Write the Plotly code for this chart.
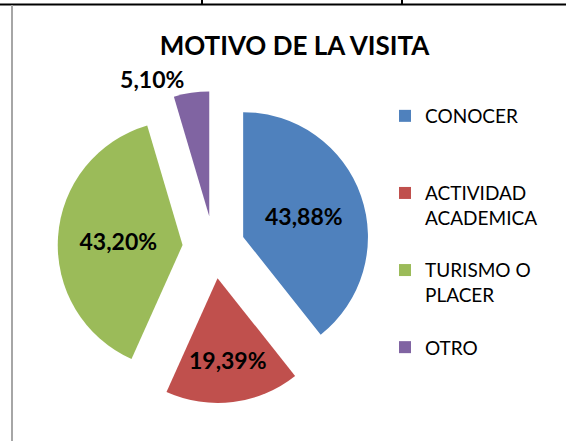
import plotly.graph_objects as go

# ---- data ----
categories = ["CONOCER", "ACTIVIDAD ACADEMICA", "TURISMO O PLACER", "OTRO"]
legend_labels = ["CONOCER", "ACTIVIDAD<br>ACADEMICA", "TURISMO O<br>PLACER", "OTRO"]
values = [43.88, 19.39, 43.20, 5.10]
value_labels = ["43,88%", "19,39%", "43,20%", "5,10%"]
colors = ["#4F81BD", "#C0504D", "#9BBB59", "#8064A2"]
title_text = "MOTIVO DE LA VISITA"

W, H = 566, 441
FONT = "Lato"

# legend entries padded so they spread over the legend column like the original
pads = ["<br>\u00a0<br>\u00a0", "<br>\u00a0", "<br>\u00a0", ""]
legend_text = [l + p for l, p in zip(legend_labels, pads)]

fig = go.Figure()
fig.add_trace(go.Pie(
    labels=legend_text,
    values=values,
    text=value_labels,
    textinfo="text",
    textposition=["inside", "inside", "inside", "outside"],
    insidetextorientation="horizontal",
    insidetextfont=dict(family=FONT, size=23, color="black", weight="bold"),
    outsidetextfont=dict(family=FONT, size=23, color="black", weight="bold"),
    marker=dict(colors=colors, line=dict(width=0)),
    pull=[0.25, 0.25, 0.25, 0.25],
    sort=False,
    direction="clockwise",
    rotation=0,
    domain=dict(x=[0.1019, 0.6532], y=[0.0857, 0.7932]),
    automargin=False,
    showlegend=True,
    hoverinfo="label+value",
))

fig.update_layout(
    width=W, height=H,
    margin=dict(l=0, r=0, t=0, b=0, autoexpand=False),
    paper_bgcolor="white",
    plot_bgcolor="white",
    font=dict(family=FONT, color="black"),
    title=dict(text="<b>" + title_text + "</b>", x=294.5 / W, xanchor="center",
               y=1 - 46 / H, yanchor="middle",
               font=dict(family=FONT, size=26, color="black")),
    legend=dict(x=385 / W, xanchor="left", y=1 - 97 / H, yanchor="top",
                font=dict(family=FONT, size=19, color="black"),
                valign="top", traceorder="normal", bgcolor="rgba(0,0,0,0)"),
    shapes=[
        dict(type="line", xref="paper", yref="paper", x0=0, x1=1,
             y0=1 - 4.5 / H, y1=1 - 4.5 / H, line=dict(color="black", width=2)),
        dict(type="line", xref="paper", yref="paper", x0=202 / W, x1=202 / W,
             y0=1, y1=1 - 4.5 / H, line=dict(color="black", width=2)),
        dict(type="line", xref="paper", yref="paper", x0=402 / W, x1=402 / W,
             y0=1, y1=1 - 4.5 / H, line=dict(color="black", width=2)),
        dict(type="line", xref="paper", yref="paper", x0=12 / W, x1=12 / W,
             y0=0, y1=1 - 5 / H, line=dict(color="#a6a6a6", width=2)),
    ],
)

fig.write_html("out.html",
               config={"displayModeBar": False},
               post_script="document.body.style.margin='0';document.body.style.padding='0';")
